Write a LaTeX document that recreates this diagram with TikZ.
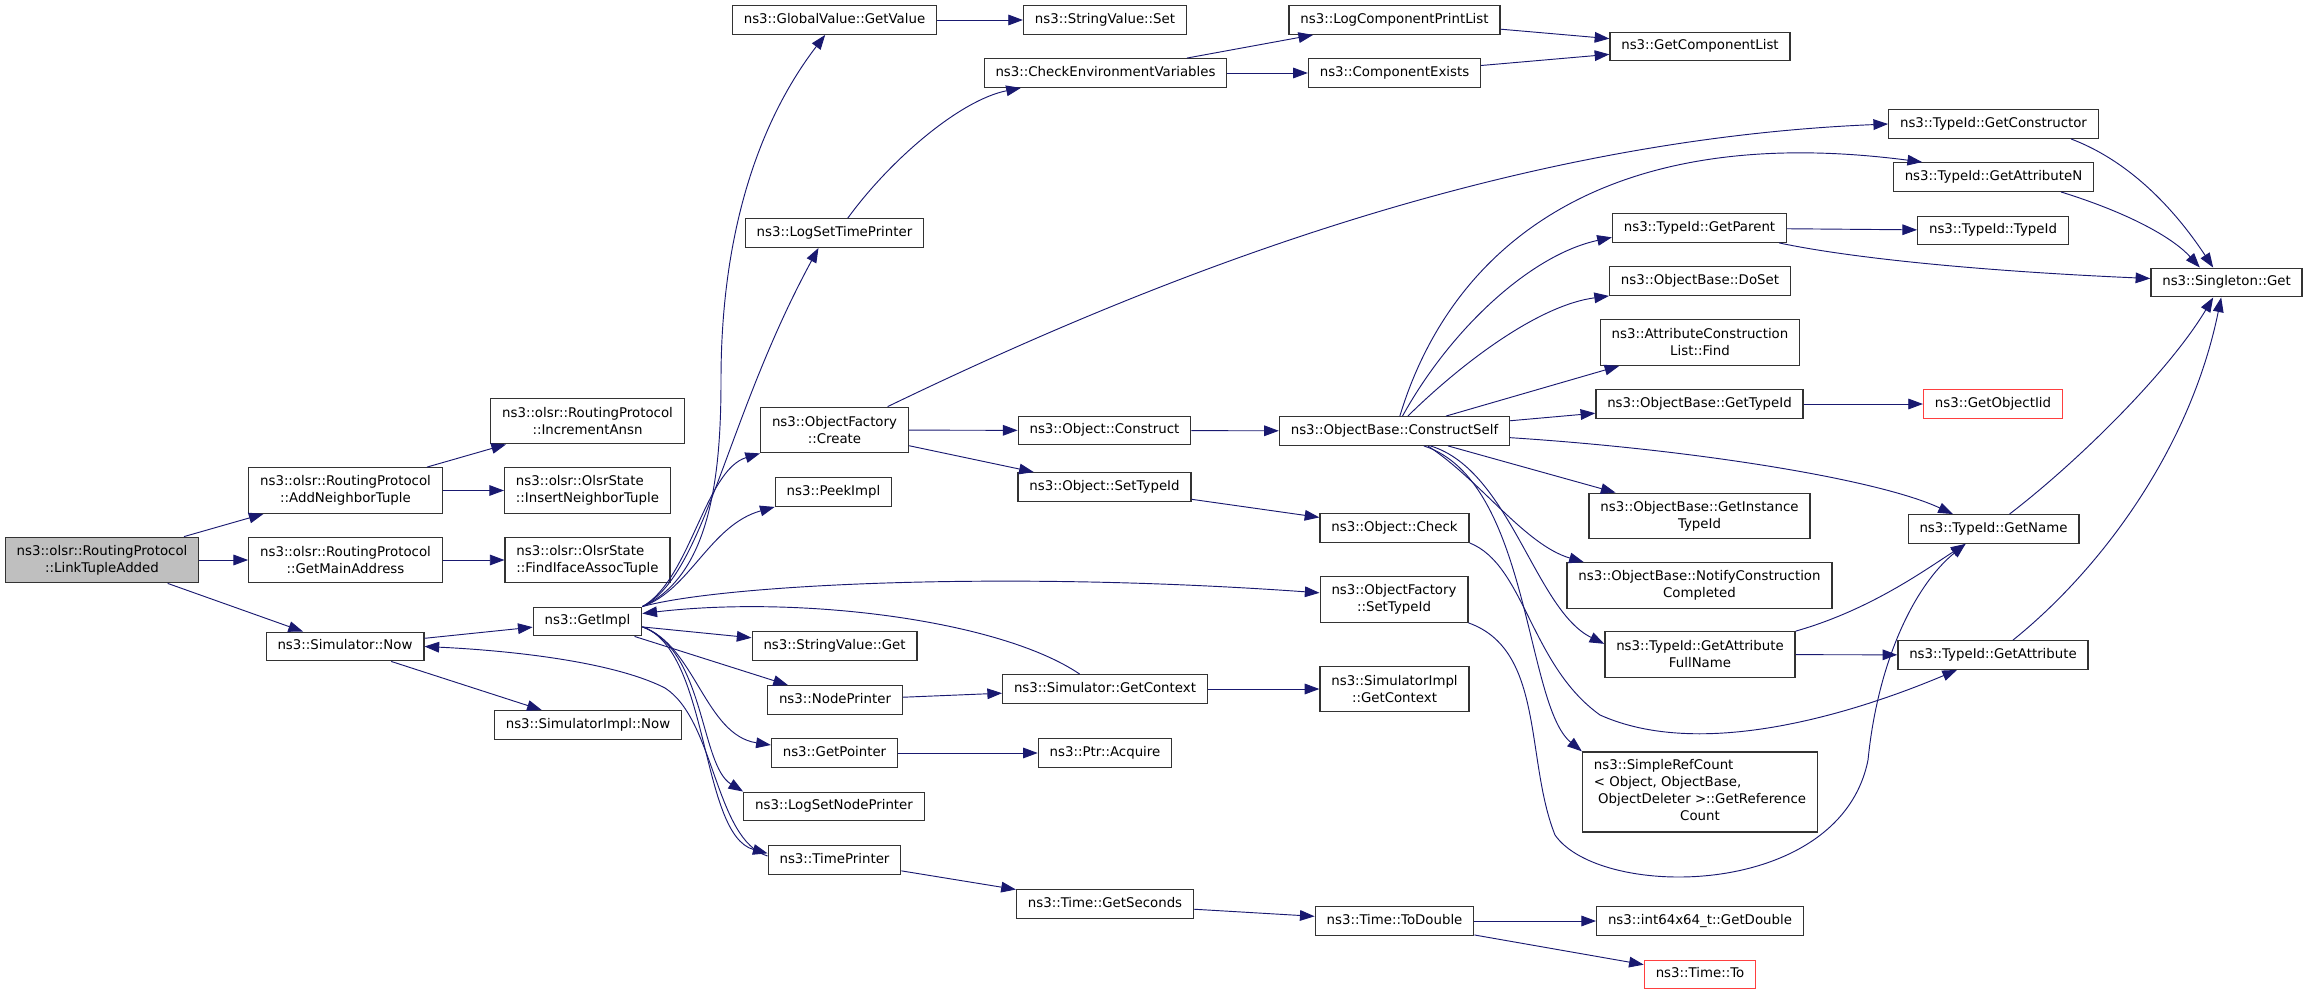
\documentclass[tikz,border=0pt]{standalone}
\usepackage{fontspec}
\setmainfont{DejaVu Sans}
\usetikzlibrary{arrows.meta}
\definecolor{edgeblue}{HTML}{191970}
\definecolor{rootgray}{HTML}{BFBFBF}
\definecolor{stubred}{HTML}{FF3F3F}

\begin{document}
\begin{tikzpicture}[x=0.75pt, y=-0.75pt,
  every node/.style={rectangle, draw=black!80, line width=1pt, fill=white,
    inner xsep=8.5pt, inner ysep=1pt, minimum height=21.4pt, align=center,
    text height=7.6pt, text depth=2.4pt, font=\fontsize{10pt}{12.75pt}\selectfont},
  two/.style={minimum height=34.1pt, text height=, text depth=},
  call/.style={edgeblue, line width=0.7pt, -{Triangle[length=11pt, width=8pt]}}]
\useasboundingbox (0,0) rectangle (2309,995);

% caller
\node[two, fill=rootgray] (root) at (102,560) {ns3::olsr::RoutingProtocol\\::LinkTupleAdded};

% second column
\node[two] (addnb) at (345.5,490.5) {ns3::olsr::RoutingProtocol\\::AddNeighborTuple};
\node[two] (mainaddr) at (345.5,560) {ns3::olsr::RoutingProtocol\\::GetMainAddress};
\node (simnow) at (345,646.5) {ns3::Simulator::Now};

% third column
\node[two] (incansn) at (587.5,421) {ns3::olsr::RoutingProtocol\\::IncrementAnsn};
\node[two, align=left] (insnb) at (587.5,490.5) {ns3::olsr::OlsrState\\::InsertNeighborTuple};
\node[two, align=left] (findiface) at (587.5,560) {ns3::olsr::OlsrState\\::FindIfaceAssocTuple};
\node (getimpl) at (587.5,621.5) {ns3::GetImpl};
\node (simimplnow) at (588,725) {ns3::SimulatorImpl::Now};

% fourth column
\node (gvget) at (834.5,20) {ns3::GlobalValue::GetValue};
\node (logsettime) at (834.5,233) {ns3::LogSetTimePrinter};
\node[two] (create) at (834.5,430) {ns3::ObjectFactory\\::Create};
\node (peekimpl) at (833.5,492) {ns3::PeekImpl};
\node (svget) at (834.5,646) {ns3::StringValue::Get};
\node (nodeprinter) at (835,700) {ns3::NodePrinter};
\node (getpointer) at (834.5,753) {ns3::GetPointer};
\node (logsetnode) at (834,806.5) {ns3::LogSetNodePrinter};
\node (timeprinter) at (834.5,860) {ns3::TimePrinter};

% fifth column
\node (svset) at (1105,20) {ns3::StringValue::Set};
\node (checkenv) at (1105.5,73) {ns3::CheckEnvironmentVariables};
\node (construct) at (1104.5,430.5) {ns3::Object::Construct};
\node (settypeid) at (1104.5,487) {ns3::Object::SetTypeId};
\node (getcontext) at (1105,689) {ns3::Simulator::GetContext};
\node (acquire) at (1105,753) {ns3::Ptr::Acquire};
\node (getseconds) at (1105,904) {ns3::Time::GetSeconds};

% sixth column
\node (logcomp) at (1394.5,20) {ns3::LogComponentPrintList};
\node (compexists) at (1394.5,73) {ns3::ComponentExists};
\node (constructself) at (1394.5,431) {ns3::ObjectBase::ConstructSelf};
\node (check) at (1394.5,528) {ns3::Object::Check};
\node[two] (ofsettypeid) at (1394,599.5) {ns3::ObjectFactory\\::SetTypeId};
\node[two] (implgetcontext) at (1394.5,689) {ns3::SimulatorImpl\\::GetContext};
\node (todouble) at (1394.5,921) {ns3::Time::ToDouble};

% seventh column
\node (getcomplist) at (1700,46.5) {ns3::GetComponentList};
\node (getparent) at (1699.5,228) {ns3::TypeId::GetParent};
\node (doset) at (1700,281) {ns3::ObjectBase::DoSet};
\node[two] (acfind) at (1700,342.5) {ns3::AttributeConstruction\\List::Find};
\node (getobtypeid) at (1699.5,404) {ns3::ObjectBase::GetTypeId};
\node[two] (getinst) at (1699.5,516) {ns3::ObjectBase::GetInstance\\TypeId};
\node[two] (notify) at (1699.5,585.5) {ns3::ObjectBase::NotifyConstruction\\Completed};
\node[two] (attrfull) at (1700,654.5) {ns3::TypeId::GetAttribute\\FullName};
\node[two, minimum height=60pt] (refcount) at (1700,792) {\begin{tabular}{@{}l@{}}ns3::SimpleRefCount\\< Object, ObjectBase,\\\ ObjectDeleter >::GetReference\\\multicolumn{1}{@{}c@{}}{Count}\end{tabular}};
\node (getdouble) at (1700,921) {ns3::int64x64\_t::GetDouble};

% eighth column
\node (getctor) at (1993.5,124) {ns3::TypeId::GetConstructor};
\node (getattrn) at (1993.5,177) {ns3::TypeId::GetAttributeN};
\node (typeid) at (1993,230.5) {ns3::TypeId::TypeId};
\node (getname) at (1993.5,529) {ns3::TypeId::GetName};
\node (getattr) at (1993,655) {ns3::TypeId::GetAttribute};
\node (singleton) at (2226.5,282.5) {ns3::Singleton::Get};

\begin{scope}[every node/.append style={draw=stubred}]
\node (getobjectiid) at (1993,404) {ns3::GetObjectIid};
\node (timeto) at (1700,974.5) {ns3::Time::To};
\end{scope}

% calls
\draw[call] (root) -- (addnb);
\draw[call] (root) -- (mainaddr);
\draw[call] (root) -- (simnow);
\draw[call] (addnb) -- (incansn);
\draw[call] (addnb) -- (insnb);
\draw[call] (mainaddr) -- (findiface);
\draw[call] (simnow) -- (getimpl);
\draw[call] (simnow) -- (simimplnow);

\draw[call] (getimpl.north east) .. controls (712,575) and (721,470) .. (721,380) .. controls (721,230) and (760,120) .. ([xshift=-7pt]gvget.south);
\draw[call] (getimpl.north east) .. controls (705,575) and (725,420) .. ([xshift=-12pt]logsettime.south);
\draw[call] (getimpl.north east) .. controls (690,580) and (705,470) .. (create.south west);
\draw[call] (getimpl.north east) .. controls (690,590) and (710,525) .. (peekimpl.south west);
\draw[call] (getimpl.north east) .. controls (720,585) and (1000,570) .. ([yshift=5pt]ofsettypeid.west);
\draw[call] ([xshift=-19pt]getcontext.north) .. controls (1000,620) and (800,595) .. ([yshift=6pt]getimpl.east);
\draw[call] (getimpl) -- (svget);
\draw[call] (getimpl) -- (nodeprinter);
\draw[call] ([yshift=-4pt]getimpl.east) .. controls (695,645) and (705,735) .. ([yshift=6pt]getpointer.west);
\draw[call] ([yshift=-4pt]getimpl.east) .. controls (705,650) and (700,765) .. (logsetnode.north west);
\draw[call] ([yshift=-4pt]getimpl.east) .. controls (710,650) and (700,835) .. ([yshift=5pt]timeprinter.west);
\draw[call] ([yshift=3pt]timeprinter.west) .. controls (715,840) and (715,720) .. (665,688) .. controls (610,660) and (500,650) .. (simnow.east);

\draw[call] ([xshift=-16pt]create.north east) .. controls (1150,280) and (1500,140) .. (getctor.west);
\draw[call] (create) -- (construct);
\draw[call] (create) -- (settypeid);
\draw[call] ([xshift=10pt]logsettime.north) .. controls (890,160) and (960,100) .. ([xshift=28pt]checkenv.south west);
\draw[call] (gvget) -- (svset);
\draw[call] (checkenv) -- (logcomp);
\draw[call] (checkenv) -- (compexists);
\draw[call] (logcomp) -- (getcomplist);
\draw[call] (compexists) -- (getcomplist);
\draw[call] (construct) -- (constructself);
\draw[call] (settypeid) -- (check);

\draw[call] ([xshift=4pt]constructself.north) .. controls (1450,250) and (1600,120) .. ([xshift=22pt]getattrn.north west);
\draw[call] ([xshift=6pt]constructself.north) .. controls (1450,330) and (1530,255) .. ([yshift=-7pt]getparent.west);
\draw[call] ([xshift=10pt]constructself.north) .. controls (1465,360) and (1540,305) .. (doset.south west);
\draw[call] (constructself) -- (acfind);
\draw[call] (constructself) -- (getobtypeid);
\draw[call] (constructself) -- (getinst);
\draw[call] ([xshift=25pt]constructself.south) .. controls (1480,480) and (1525,545) .. ([xshift=13pt]notify.north west);
\draw[call] ([xshift=27pt]constructself.south) .. controls (1510,470) and (1535,610) .. ([yshift=8pt]attrfull.west);
\draw[call] ([xshift=22pt]constructself.south) .. controls (1530,480) and (1525,705) .. (refcount.north west);
\draw[call] ([yshift=-5pt]constructself.east) .. controls (1700,450) and (1880,480) .. ([xshift=34pt]getname.north west);

\draw[call] (getparent) -- (typeid);
\draw[call] ([xshift=-6pt]getparent.south east) .. controls (1860,260) and (2000,272) .. ([yshift=3pt]singleton.west);
\draw[call] (getobtypeid) -- (getobjectiid);
\draw[call] ([xshift=-21pt]getctor.south east) .. controls (2140,165) and (2185,225) .. ([xshift=-10pt]singleton.north);
\draw[call] ([xshift=-25pt]getattrn.south east) .. controls (2135,215) and (2175,240) .. ([xshift=-20pt]singleton.north);
\draw[call] ([xshift=12pt]getname.north) .. controls (2080,460) and (2170,370) .. ([xshift=-10pt]singleton.south);
\draw[call] ([xshift=15pt]getattr.north) .. controls (2100,570) and (2190,450) .. ([xshift=-4pt]singleton.south);
\draw[call] (attrfull.north east) .. controls (1870,610) and (1925,570) .. ([xshift=-21pt]getname.south);
\draw[call] (attrfull) -- (getattr);
\draw[call] (check.south east) .. controls (1525,565) and (1530,665) .. (1600,715) .. controls (1700,760) and (1850,715) .. ([xshift=-27pt]getattr.south);
\draw[call] (ofsettypeid.south east) .. controls (1545,650) and (1525,760) .. (1555,835) .. controls (1600,900) and (1840,900) .. (1868,760) .. controls (1878,660) and (1915,585) .. ([xshift=-21pt]getname.south);

\draw[call] (getcontext) -- (implgetcontext);
\draw[call] (nodeprinter) -- (getcontext);
\draw[call] (getpointer) -- (acquire);
\draw[call] (timeprinter) -- (getseconds);
\draw[call] (getseconds) -- (todouble);
\draw[call] (todouble) -- (getdouble);
\draw[call] (todouble) -- (timeto);

\end{tikzpicture}
\end{document}
